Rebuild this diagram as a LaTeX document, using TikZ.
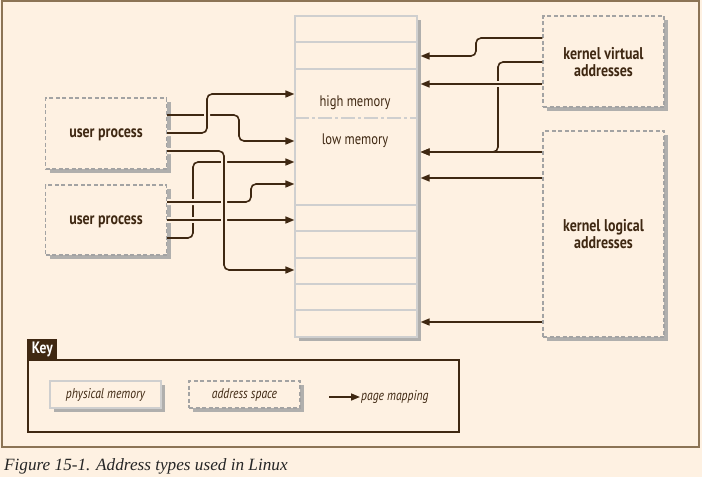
\documentclass[tikz,border=0pt]{standalone}
\usepackage{fontspec}
\setmainfont{Liberation Serif}
\newfontfamily\diafont[FakeStretch=0.82]{PT Sans}
\usetikzlibrary{arrows.meta,shadows}
\definecolor{cream}{HTML}{FEF1E2}
\definecolor{bark}{HTML}{3F2812}
\definecolor{framebrown}{HTML}{8C7455}
\definecolor{memgray}{HTML}{CFCFCF}
\definecolor{dashgray}{HTML}{A3A3A3}
\definecolor{shadowgray}{HTML}{A8A8A8}
\begin{document}
\begin{tikzpicture}[x=1pt,y=-1pt,
	shadebox/.style={fill=cream, drop shadow={shadow xshift=4pt, shadow yshift=-4pt, fill=shadowgray, opacity=.9}},
	membox/.style={shadebox, draw=memgray, line width=1.2pt},
	spacebox/.style={shadebox, draw=dashgray, line width=1.2pt, dash pattern=on 4pt off 2.5pt},
	boxtext/.style={font=\diafont\bfseries\fontsize{17}{17}\selectfont, text=bark, align=center, inner sep=0pt, text depth=0pt},
	memtext/.style={font=\diafont\fontsize{15.3}{16}\selectfont, text=bark, inner sep=0pt, text depth=0pt},
	keytext/.style={font=\diafont\itshape\fontsize{14.2}{15}\selectfont, text=bark, inner sep=1pt},
	map/.style={draw=bark, line width=1.6pt, rounded corners=5pt, -{Triangle[length=9pt,width=7pt]}},
	over/.style={preaction={draw=cream, line width=6pt, -}},
]

	% page and frame
	\fill[cream] (0,0) rectangle (702,477);
	\draw[framebrown, line width=1.2pt] (2,1) rectangle (699,447);

	% physical memory
	\node[membox, minimum width=122pt, minimum height=321pt] (mem) at (356,176.5) {};
	\foreach \y in {42,69,205,231,258,284,310}
		\draw[memgray, line width=1.2pt] (295,\y) -- (417,\y);
	\draw[memgray, line width=1.2pt, dash pattern=on 14pt off 3pt on 3pt off 3pt] (295,118) -- (417,118);
	\node[memtext] (high) at (355,101) {high memory};
	\node[memtext] (low) at (355,139) {low memory};

	% address spaces
	\node[spacebox, boxtext, minimum width=121pt, minimum height=71pt] (up1) at (106,133.5) {user process};
	\node[spacebox, boxtext, minimum width=121pt, minimum height=70pt] (up2) at (106,220) {user process};
	\node[spacebox, boxtext, minimum width=121pt, minimum height=91pt] (kv) at (603.5,61.5) {kernel virtual\\addresses};
	\node[spacebox, boxtext, minimum width=121pt, minimum height=206pt] (kl) at (603.5,234) {kernel logical\\addresses};

	% user mappings
	\draw[map] (up1.east |- 0,115) -- (239,115) -- (239,141) -- (mem.west |- 0,141);
	\draw[map, over] (up1.east |- 0,133) -- (207,133) -- (207,94) -- (mem.west |- 0,94);
	\draw[map] (up2.east |- 0,238) -- (193,238) -- (193,162) -- (mem.west |- 0,162);
	\draw[map, over] (up2.east |- 0,202) -- (251,202) -- (251,184) -- (mem.west |- 0,184);
	\draw[map, over] (up2.east |- 0,220) -- (mem.west |- 0,220);
	\draw[map, over] (up1.east |- 0,151) -- (224,151) -- (224,270) -- (mem.west |- 0,270);

	% kernel mappings
	\draw[map] (kv.west |- 0,38) -- (476,38) -- (476,56) -- ([xshift=3pt]mem.east |- 0,56);
	\draw[map] (kv.west |- 0,62) -- (498,62) -- (498,152) -- ([xshift=3pt]mem.east |- 0,152);
	\draw[map, over] (kv.west |- 0,84) -- ([xshift=3pt]mem.east |- 0,84);
	\draw[map] (kl.west |- 0,152) -- ([xshift=3pt]mem.east |- 0,152);
	\draw[map] (kl.west |- 0,178) -- ([xshift=3pt]mem.east |- 0,178);
	\draw[map] (kl.west |- 0,322) -- ([xshift=3pt]mem.east |- 0,322);

	% key
	\draw[bark, line width=1.8pt] (28,360) rectangle (459,432);
	\node[fill=bark, text=white, font=\diafont\bfseries\fontsize{16.5}{17}\selectfont, anchor=south west, minimum width=30pt, minimum height=22pt, inner sep=1pt] (key) at (27.1,360.9) {Key};
	\node[membox, keytext, minimum width=111pt, minimum height=27pt] (pmem) at (105.5,394.5) {physical memory};
	\node[spacebox, keytext, minimum width=111pt, minimum height=27pt] (aspace) at (244.5,394.5) {address space};
	\coordinate (mtail) at (329,397);
	\node[keytext, anchor=west] (pmap) at (360,397) {page mapping};
	\draw[map] (mtail) -- (pmap.west);

	% caption
	\node[anchor=base west, inner sep=0pt, font=\itshape\fontsize{17.2}{19}\selectfont, text=black!85] (cap) at (4,470) {Figure 15-1. Address types used in Linux};

\end{tikzpicture}
\end{document}
